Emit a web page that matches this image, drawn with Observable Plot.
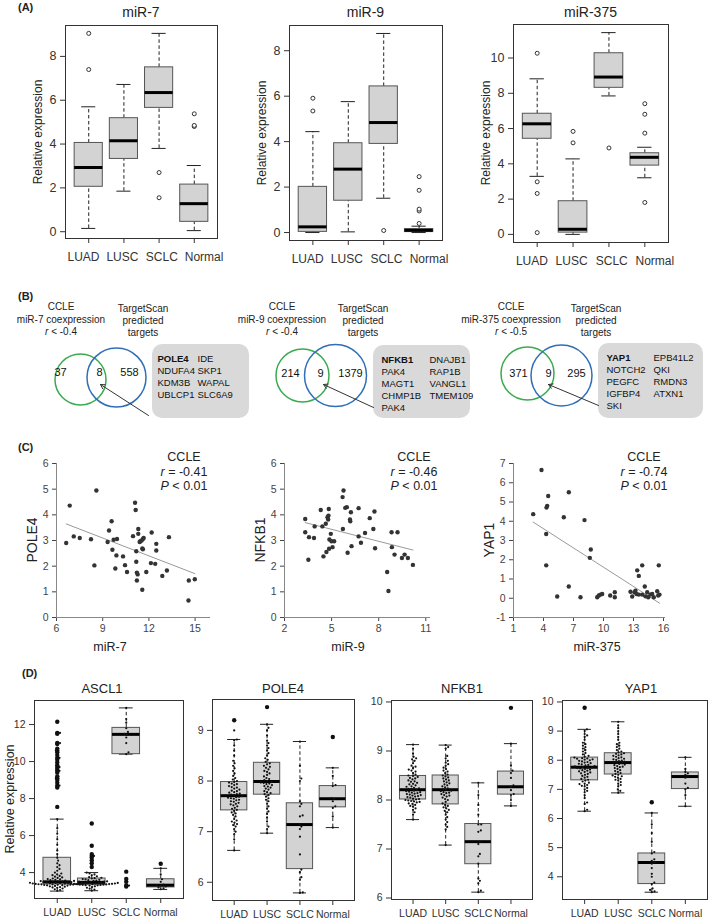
<!DOCTYPE html>
<html><head><meta charset="utf-8">
<script src="https://cdn.jsdelivr.net/npm/d3@7"></script>
<script src="https://cdn.jsdelivr.net/npm/@observablehq/plot@0.6"></script>
<style>
body{margin:0;background:#fff;}
#fig{position:relative;width:709px;height:922px;overflow:hidden;background:#fff;font-family:"Liberation Sans",Arial,sans-serif;color:#222;}
#fig svg{overflow:visible;}
</style></head><body><div id="fig"></div>
<script>
// ---------------- DATA ----------------
const groups = ["LUAD", "LUSC", "SCLC", "Normal"];

// (A) miRNA boxplots: [lower whisker, Q1, median, Q3, upper whisker]
const miRNAs = ["miR-7", "miR-9", "miR-375"];
const mir7Stats = [[0.15,2.05,2.93,4.05,5.7],[1.85,3.32,4.15,5.18,6.72],[3.8,5.65,6.35,7.5,9.05],[0.05,0.45,1.28,2.15,3.02]];
const mir7Outliers = [[7.4,9.05],[],[2.7,1.55],[4.8,4.85,5.38]];
const mir9Stats = [[0,0.03,0.25,2.01,4.44],[0.03,1.4,2.79,3.93,5.76],[1.51,3.9,4.84,6.43,8.76],[0,0.02,0.1,0.15,0.28]];
const mir9Outliers = [[5.35,5.91],[],[0.09],[0.4,0.95,1.03,1.86,2.46]];
const mir375Stats = [[3.29,5.42,6.27,6.84,8.82],[0,0.1,0.29,1.88,4.28],[7.85,8.31,8.92,10.27,11.44],[3.21,3.9,4.37,4.6,4.94]];
const mir375Outliers = [[10.27,2.98,2.32,0.1],[5.19,5.84],[4.9],[5.74,6.81,7.41,1.81]];

// (B) Venn counts and overlapping genes
const vennCutoffs = ["-0.4", "-0.4", "-0.5"];
const vennCcleOnly = [37, 214, 371];
const vennOverlap = [8, 9, 9];
const vennTargetOnly = [558, 1379, 295];
const overlapGenes = [
  ["POLE4","NDUFA4","KDM3B","UBLCP1","IDE","SKP1","WAPAL","SLC6A9"],
  ["NFKB1","PAK4","MAGT1","CHMP1B","PAK4","DNAJB1","RAP1B","VANGL1","TMEM109"],
  ["YAP1","NOTCH2","PEGFC","IGFBP4","SKI","EPB41L2","QKI","RMDN3","ATXN1"]
];

// (C) CCLE correlations
const targetGenes = ["POLE4", "NFKB1", "YAP1"];
const corrR = ["-0.41", "-0.46", "-0.74"];
const mir7X = [6.63,6.86,7.12,7.51,8.24,8.46,8.59,9.32,9.41,9.58,9.63,9.71,9.82,9.89,9.93,10.32,10.45,10.58,10.97,11.10,11.14,11.18,11.18,11.22,11.22,11.27,11.31,11.31,11.40,11.44,11.53,11.57,11.61,11.61,11.66,11.57,11.83,12.13,12.18,12.41,12.48,12.48,12.87,13.17,13.30,14.59,14.98,14.57];
const pole4Y = [2.90,4.36,3.16,3.10,3.05,2.03,4.95,2.94,3.39,3.75,2.64,3.03,1.91,2.42,3.06,2.38,2.04,1.77,3.17,4.47,4.19,2.58,2.17,1.44,1.75,1.68,3.26,3.45,2.94,2.97,3.00,2.69,3.06,2.66,3.10,1.08,1.77,2.12,3.31,2.09,2.87,2.61,1.62,1.83,3.13,1.44,1.49,0.66];
const mir9X = [3.32,3.32,3.56,3.52,3.88,3.92,4.31,4.41,4.48,4.63,4.67,4.74,4.78,4.80,4.82,4.84,4.86,4.95,4.99,5.06,5.16,5.70,5.76,5.72,5.87,5.97,6.02,6.17,6.19,6.23,6.27,6.72,6.72,6.87,7.13,7.43,7.66,7.73,7.77,8.54,8.62,8.82,8.84,9.01,9.20,9.48,9.65,9.86,10.18];
const nfkb1Y = [3.84,3.32,3.13,2.25,3.10,3.55,4.19,3.55,2.38,3.65,2.55,3.91,3.82,3.97,4.23,2.68,3.04,3.26,2.97,2.74,2.97,4.69,4.95,3.45,4.27,4.30,2.52,3.82,3.75,4.10,2.78,4.26,3.16,2.91,3.29,3.87,3.45,4.13,2.70,1.77,1.03,3.32,2.74,2.45,3.32,2.32,2.45,2.32,2.05];
const mir375X = [2.97,3.80,4.27,4.27,4.30,4.37,4.47,5.37,6.03,6.53,6.53,7.70,8.10,8.73,8.63,9.37,9.53,9.70,9.87,10.67,11.13,11.13,12.70,12.87,13.10,13.37,13.53,13.20,13.30,13.53,13.87,13.87,14.13,14.20,14.37,14.47,14.70,14.87,15.03,15.37,15.53,15.47,15.60];
const yap1Y = [4.37,6.66,3.34,1.71,4.71,4.80,5.31,0.09,4.21,5.51,0.61,0.05,4.06,2.53,2.10,0.05,0.14,0.19,0.22,0.14,0.31,0.05,0.34,0.09,0.31,1.45,1.16,0.39,0.22,0.19,1.71,0.19,0.61,0.10,0.31,0.05,0.19,0.22,0.05,0.36,1.71,0.14,0.19];

// (D) target gene expression: box stats, outliers, individual samples
const dGenes = ["ASCL1", "POLE4", "NFKB1", "YAP1"];
const ascl1Stats = [[3.0,3.36,3.5,4.8,6.89],[3.02,3.32,3.47,3.68,4.0],[10.4,10.4,11.47,11.82,12.9],[3.09,3.2,3.32,3.64,4.23]];
const ascl1Outliers = [[7.55,8.6,8.7,8.85,9.0,9.1,9.2,9.4,9.5,9.6,9.7,9.8,9.95,10.1,10.2,10.35,10.5,10.6,10.7,10.95,11.0,11.5,11.55,12.15],[4.3,4.5,4.65,4.8,4.9,5.0,5.45,6.65],[3.25,3.3,3.5,3.65,4.05],[4.48]];
const ascl1Samples = [
  [3.02,3.06,3.1,3.14,3.18,3.2,3.22,3.24,3.26,3.28,3.3,3.31,3.32,3.33,3.34,3.35,3.36,3.37,3.38,3.39,3.4,3.41,3.42,3.43,3.44,3.45,3.46,3.47,3.48,3.49,3.5,3.51,3.52,3.53,3.54,3.55,3.57,3.59,3.61,3.63,3.65,
   3.345,3.365,3.385,3.405,3.425,
   3.68,3.71,3.74,3.78,3.82,3.86,3.9,3.95,4.0,4.1,4.2,4.3,4.4,4.5,4.65,4.8,5.0,5.2,5.5,5.8,6.1,6.4,6.89,
   7.55,8.6,8.7,8.85,9.0,9.1,9.2,9.4,9.5,9.6,9.7,9.8,9.95,10.1,10.2,10.35,10.5,10.6,10.7,10.95,11.0,11.5,11.55,12.15],
  [3.02,3.08,3.13,3.18,3.22,3.26,3.3,3.31,3.32,3.33,3.34,3.35,3.36,3.37,3.38,3.39,3.4,3.41,3.42,3.43,3.44,3.45,3.46,3.47,3.48,3.49,3.5,3.51,3.52,3.53,3.55,3.57,3.59,3.61,3.63,3.65,
   3.355,3.375,3.395,3.415,
   3.68,3.7,3.72,3.75,3.8,3.85,3.9,3.95,4.0,4.3,4.5,4.65,4.8,4.9,5.0,5.45,6.65],
  [3.25,3.3,3.5,3.65,4.05,10.4,10.5,11.0,11.3,11.45,11.5,11.6,11.8,12.1,12.3,12.9],
  [3.1,3.15,3.2,3.25,3.3,3.32,3.35,3.5,3.64,3.9,4.23,4.48]
];
const pole4Stats = [[6.63,7.42,7.71,7.98,8.82],[6.97,7.73,7.99,8.36,9.12],[5.79,6.26,7.14,7.56,8.78],[7.08,7.48,7.65,7.9,8.26]];
const pole4Outliers = [[9.2],[9.46],[],[8.87]];
const pole4Samples = [
  [6.63,6.85,6.95,7.0,7.05,7.1,7.13,7.15,7.18,7.2,7.22,7.25,7.3,7.33,7.36,7.38,7.41,7.43,7.45,7.47,7.5,7.52,7.54,7.55,7.57,7.59,7.6,7.62,7.63,7.65,7.66,7.67,7.68,7.69,7.7,7.72,7.73,7.74,7.75,7.77,7.78,7.8,7.81,7.83,7.85,7.87,7.88,7.9,7.92,7.94,7.95,7.97,7.98,8.0,8.03,8.06,8.1,8.15,8.2,8.25,8.3,8.35,8.4,8.5,8.6,8.7,8.8,8.82,9.0,9.2],
  [6.97,7.05,7.1,7.2,7.28,7.35,7.4,7.45,7.5,7.55,7.6,7.63,7.66,7.69,7.72,7.74,7.76,7.78,7.8,7.83,7.85,7.87,7.89,7.9,7.92,7.94,7.95,7.96,7.97,7.98,8.0,8.02,8.04,8.06,8.09,8.12,8.15,8.18,8.2,8.23,8.26,8.28,8.3,8.33,8.35,8.38,8.42,8.45,8.5,8.55,8.6,8.65,8.7,8.75,8.8,8.9,9.0,9.05,9.12,9.46],
  [5.79,5.8,6.05,6.1,6.2,6.25,6.55,6.9,7.05,7.1,7.15,7.3,7.32,7.5,7.55,7.6,8.0,8.05,8.3,8.78],
  [7.08,7.3,7.47,7.5,7.6,7.65,7.66,7.9,7.92,8.1,8.26,8.87]
];
const nfkb1Stats = [[7.6,8.01,8.21,8.49,9.13],[7.08,7.91,8.21,8.5,9.12],[6.12,6.69,7.15,7.51,8.35],[7.88,8.11,8.27,8.58,9.15]];
const nfkb1Outliers = [[],[],[],[9.88]];
const nfkb1Samples = [
  [7.6,7.7,7.75,7.8,7.83,7.86,7.88,7.9,7.92,7.93,7.95,7.96,7.97,7.98,7.99,8.0,8.01,8.02,8.03,8.05,8.06,8.07,8.08,8.09,8.1,8.11,8.12,8.13,8.14,8.15,8.16,8.17,8.18,8.19,8.2,8.22,8.23,8.24,8.25,8.27,8.28,8.3,8.32,8.33,8.35,8.37,8.38,8.4,8.42,8.44,8.45,8.47,8.49,8.5,8.52,8.55,8.58,8.6,8.62,8.65,8.68,8.7,8.75,8.8,8.83,8.85,8.88,8.95,9.05,9.13],
  [7.08,7.4,7.45,7.5,7.55,7.6,7.65,7.7,7.75,7.78,7.8,7.83,7.85,7.88,7.9,7.93,7.96,8.0,8.02,8.05,8.07,8.09,8.1,8.12,8.14,8.15,8.16,8.18,8.19,8.2,8.22,8.24,8.26,8.28,8.3,8.32,8.34,8.36,8.38,8.4,8.42,8.44,8.46,8.48,8.5,8.52,8.55,8.58,8.6,8.63,8.66,8.7,8.73,8.76,8.8,8.85,8.9,9.05,9.08,9.12],
  [6.12,6.15,6.3,6.35,6.4,6.7,6.85,6.9,7.1,7.15,7.35,7.38,7.5,7.5,7.7,7.9,8.1,8.35],
  [7.88,8.0,8.1,8.12,8.2,8.27,8.3,8.45,8.55,8.6,8.7,9.15,9.88]
];
const yap1Stats = [[6.25,7.31,7.76,8.09,9.06],[6.88,7.51,7.92,8.24,9.32],[3.47,3.75,4.49,4.8,6.19],[6.42,7.01,7.44,7.58,8.1]];
const yap1Outliers = [[9.8],[],[6.56],[]];
const yap1Samples = [
  [6.25,6.3,6.5,6.55,6.7,6.8,6.9,6.95,7.0,7.05,7.1,7.12,7.15,7.18,7.2,7.23,7.27,7.3,7.33,7.36,7.4,7.43,7.46,7.5,7.53,7.55,7.58,7.6,7.62,7.64,7.66,7.68,7.7,7.72,7.73,7.74,7.75,7.77,7.79,7.8,7.82,7.84,7.86,7.88,7.9,7.92,7.94,7.96,7.98,8.0,8.02,8.03,8.05,8.06,8.07,8.09,8.12,8.15,8.2,8.25,8.3,8.35,8.4,8.45,8.5,8.55,8.6,8.7,8.8,8.85,8.9,9.0,9.06,9.8],
  [6.88,6.95,7.0,7.1,7.15,7.2,7.25,7.3,7.33,7.36,7.4,7.43,7.45,7.48,7.5,7.53,7.56,7.6,7.63,7.66,7.7,7.73,7.76,7.78,7.8,7.83,7.85,7.87,7.89,7.91,7.93,7.95,7.97,7.99,8.01,8.03,8.05,8.07,8.1,8.12,8.15,8.17,8.2,8.22,8.24,8.27,8.3,8.35,8.4,8.45,8.5,8.55,8.6,8.7,8.8,8.9,9.0,9.1,9.2,9.32],
  [3.47,3.5,3.55,3.6,3.75,3.8,4.0,4.1,4.3,4.45,4.5,4.55,4.6,4.8,4.85,5.2,5.5,5.8,6.19,6.56],
  [6.42,6.8,7.0,7.05,7.2,7.4,7.45,7.5,7.55,7.6,7.7,8.1]
];

// ---------------- HELPERS ----------------
const FONT = '"Liberation Sans", Arial, sans-serif';
const fig = document.getElementById("fig");
const intFmt = d => String(d);
function place(node, left, top) {
  node.style.position = "absolute";
  node.style.left = left + "px";
  node.style.top = top + "px";
  fig.appendChild(node);
}
function txt(html, x, y, o = {}) {
  const {size = 12, anchor = "middle", weight = "normal", rotate = 0, color = "#222"} = o;
  const d = document.createElement("div");
  d.innerHTML = html;
  const tx = anchor === "middle" ? "-50%" : anchor === "end" ? "-100%" : "0";
  d.style.cssText = `position:absolute;left:${x}px;top:${y}px;font-size:${size}px;font-weight:${weight};color:${color};line-height:1;white-space:nowrap;transform:translate(${tx},-50%)${rotate ? ` rotate(${rotate}deg)` : ""};`;
  fig.appendChild(d);
}

function boxPanel({stats, outliers, samples, yDomain, yTicks, frame, tickFont, xTickPad, filledOutliers, xLabels}) {
  const [fl, ft, fr, fb] = frame;
  const mL = 36, mR = 3, mT = 3, mB = 26;
  const width = fr - fl + mL + mR, height = fb - ft + mT + mB;
  const xDomain = [0.34, 4.66];
  const rows = stats.map((s, k) => ({i: k + 1, lo: s[0], q1: s[1], med: s[2], q3: s[3], hi: s[4]}));
  const outs = outliers.flatMap((arr, k) => arr.map(v => ({i: k + 1, v})));
  const marks = [
    Plot.ruleX(rows, {x: "i", y1: "q3", y2: "hi", stroke: "#222", strokeDasharray: "3.5,2.5"}),
    Plot.ruleX(rows, {x: "i", y1: "lo", y2: "q1", stroke: "#222", strokeDasharray: "3.5,2.5"}),
    Plot.ruleY(rows, {y: "hi", x1: d => d.i - 0.2, x2: d => d.i + 0.2, stroke: "#222"}),
    Plot.ruleY(rows, {y: "lo", x1: d => d.i - 0.2, x2: d => d.i + 0.2, stroke: "#222"}),
    Plot.rect(rows, {x1: d => d.i - 0.4, x2: d => d.i + 0.4, y1: "q1", y2: "q3", fill: "#d3d3d3", stroke: "#555"}),
    Plot.ruleY(rows, {y: "med", x1: d => d.i - 0.4, x2: d => d.i + 0.4, stroke: "#000", strokeWidth: 3})
  ];
  if (filledOutliers) marks.push(Plot.dot(outs, {x: "i", y: "v", r: 2.2, fill: "#111"}));
  else marks.push(Plot.dot(outs, {x: "i", y: "v", r: 2, stroke: "#333", fill: "white", strokeWidth: 1}));
  if (samples) {
    const yPix = d3.scaleLinear(yDomain, [height - mB, mT]);
    const pxPerUnit = (fr - fl) / (xDomain[1] - xDomain[0]);
    const s = 2.9;
    const swarm = [];
    samples.forEach((arr, k) => {
      const pts = arr.map(v => ({v, py: yPix(v)})).sort((a, b) => a.v - b.v);
      const placed = [];
      for (const p of pts) {
        const cands = [0];
        for (const q of placed) {
          const dy = Math.abs(q.py - p.py);
          if (dy < s) { const dx = Math.sqrt(s * s - dy * dy); cands.push(q.px + dx, q.px - dx); }
        }
        cands.sort((a, b) => Math.abs(a) - Math.abs(b));
        const c = cands.find(c => placed.every(q => (q.px - c) ** 2 + (q.py - p.py) ** 2 >= s * s - 1e-6));
        p.px = c === undefined ? 0 : c;
        placed.push(p);
        swarm.push({i: k + 1 + p.px / pxPerUnit, v: p.v});
      }
    });
    marks.push(Plot.dot(swarm, {x: "i", y: "v", r: 1.1, fill: "#111"}));
  }
  marks.push(Plot.frame({stroke: "#333"}));
  const svg = Plot.plot({
    width, height, marginLeft: mL, marginRight: mR, marginTop: mT, marginBottom: mB,
    style: {fontFamily: FONT, fontSize: tickFont + "px", color: "#333", background: "none"},
    x: {domain: xDomain, ticks: [1, 2, 3, 4], tickFormat: xLabels ? () => "" : d => groups[d - 1], tickSize: 5, tickPadding: xTickPad, label: null},
    y: {domain: yDomain, ticks: yTicks, tickFormat: intFmt, tickSize: 5, tickPadding: 4, label: null},
    marks
  });
  place(svg, fl - mL, ft - mT);
}

function scatterPanel({xs, ys, xDomain, xTicks, yDomain, yTicks, frame}) {
  const [fl, ft, fr, fb] = frame;
  const mL = 30, mR = 4, mT = 6, mB = 22;
  const width = fr - fl + mL + mR, height = fb - ft + mT + mB;
  const pts = xs.map((x, k) => ({x, y: ys[k]}));
  const svg = Plot.plot({
    width, height, marginLeft: mL, marginRight: mR, marginTop: mT, marginBottom: mB,
    style: {fontFamily: FONT, fontSize: "10.5px", color: "#444", background: "none"},
    x: {domain: xDomain, ticks: xTicks, tickFormat: intFmt, tickSize: 4, tickPadding: 3, label: null},
    y: {domain: yDomain, ticks: yTicks, tickFormat: intFmt, tickSize: 4, tickPadding: 4, label: null},
    marks: [
      Plot.ruleX([xDomain[0]], {stroke: "#888"}),
      Plot.ruleY([yDomain[0]], {stroke: "#888"}),
      Plot.linearRegressionY(pts, {x: "x", y: "y", stroke: "#9a9a9a", strokeWidth: 1, ci: 0}),
      Plot.dot(pts, {x: "x", y: "y", r: 2.2, fill: "#333"})
    ]
  });
  place(svg, fl - mL, ft - mT);
}

// ---------------- PANEL A ----------------
txt("(A)", 18, 7, {size: 11, weight: "bold", anchor: "start"});
const aFrames = [[65, 25, 217, 238], [289, 25, 442, 240], [513, 24, 668, 242]];
const aStats = [mir7Stats, mir9Stats, mir375Stats];
const aOut = [mir7Outliers, mir9Outliers, mir375Outliers];
const aDom = [[-0.31, 9.41], [-0.35, 9.11], [-0.46, 11.9]];
const aTicks = [[0, 2, 4, 6, 8], [0, 2, 4, 6, 8], [0, 2, 4, 6, 8, 10]];
const aLabelFrac = [0.122, 0.378, 0.637, 0.915];
aFrames.forEach((f, k) => {
  boxPanel({stats: aStats[k], outliers: aOut[k], yDomain: aDom[k], yTicks: aTicks[k], frame: f, tickFont: 12.5, xTickPad: 8, filledOutliers: false, xLabels: true});
  txt(miRNAs[k], (f[0] + f[2]) / 2, 12, {size: 14});
  txt("Relative expression", f[0] - 27, (f[1] + f[3]) / 2, {size: 12, rotate: -90});
  groups.forEach((g, j) => txt(g, f[0] + aLabelFrac[j] * (f[2] - f[0]), f[3] + 19, {size: 12, color: "#333"}));
});

// ---------------- PANEL B ----------------
txt("(B)", 18, 296, {size: 11, weight: "bold", anchor: "start"});
const bHead = [[61, 143], [282, 363], [511, 596]];
bHead.forEach((h, k) => {
  txt("CCLE", h[0], 307, {size: 10});
  txt(miRNAs[k] + " coexpression", h[0], 319.5, {size: 10});
  txt("<i>r</i> &lt; " + vennCutoffs[k], h[0], 332, {size: 10});
  txt("TargetScan", h[1], 309, {size: 10});
  txt("predicted", h[1], 321, {size: 10});
  txt("targets", h[1], 333, {size: 10});
});
{
  // layout of each Venn panel (pixel geometry)
  const L = [
    {g: [80, 379, 25.5], b: [116, 377, 29.5], n: [60, 99, 129], ny: 372, box: [152, 344, 249, 418], c1: 157, c2: 197, ar: [148, 415, 100, 384]},
    {g: [302, 375, 26.5], b: [335, 375, 31], n: [290, 320, 350], ny: 373, box: [373, 345, 470, 418], c1: 381, c2: 429, ar: [373, 407, 323, 384]},
    {g: [527, 373, 26.5], b: [561, 375, 30.5], n: [518, 548, 576], ny: 373, box: [598, 343, 703, 418], c1: 606, c2: 653, ar: [598, 405, 548, 384]}
  ];
  const circles = [], counts = [], boxes = [], genes = [], arrows = [];
  L.forEach((l, k) => {
    circles.push({x: l.g[0], y: l.g[1], r: l.g[2], c: "#3aaa4f"}, {x: l.b[0], y: l.b[1], r: l.b[2], c: "#2f6fb7"});
    counts.push({x: l.n[0], y: l.ny, t: vennCcleOnly[k]}, {x: l.n[1], y: l.ny, t: vennOverlap[k]}, {x: l.n[2], y: l.ny, t: vennTargetOnly[k]});
    boxes.push({x1: l.box[0], y1: l.box[1], x2: l.box[2], y2: l.box[3]});
    const list = overlapGenes[k];
    const half = Math.ceil(list.length / 2);
    list.forEach((g, j) => {
      const col = j < half ? 0 : 1, row = j < half ? j : j - half;
      genes.push({x: col ? l.c2 : l.c1, y: l.box[1] + 14 + row * 12.2, t: g, bold: j === 0});
    });
    arrows.push({x1: l.ar[0], y1: l.ar[1], x2: l.ar[2], y2: l.ar[3]});
  });
  const svg = Plot.plot({
    width: 709, height: 84, margin: 0,
    style: {fontFamily: FONT, background: "none", color: "#111"},
    x: {domain: [0, 709], range: [0, 709], axis: null},
    y: {domain: [339, 423], range: [0, 84], axis: null},
    marks: [
      Plot.rect(boxes, {x1: "x1", x2: "x2", y1: "y1", y2: "y2", fill: "#d9d9d9", rx: 10}),
      ...circles.map(c => Plot.dot([c], {x: "x", y: "y", r: c.r, stroke: c.c, strokeWidth: 1.5, fill: "none"})),
      Plot.text(counts, {x: "x", y: "y", text: d => String(d.t), fontSize: 11}),
      Plot.text(genes.filter(d => !d.bold), {x: "x", y: "y", text: "t", textAnchor: "start", fontSize: 9.5}),
      Plot.text(genes.filter(d => d.bold), {x: "x", y: "y", text: "t", textAnchor: "start", fontSize: 9.5, fontWeight: "bold"}),
      Plot.arrow(arrows, {x1: "x1", y1: "y1", x2: "x2", y2: "y2", stroke: "#333", strokeWidth: 1, headLength: 7})
    ]
  });
  place(svg, 0, 339);
}

// ---------------- PANEL C ----------------
txt("(C)", 18, 447, {size: 11, weight: "bold", anchor: "start"});
const cFrames = [[56, 463, 210, 617], [284, 463, 430, 617], [513, 463, 665, 617]];
const cX = [mir7X, mir9X, mir375X], cY = [pole4Y, nfkb1Y, yap1Y];
const cXDom = [[6, 16], [2, 11.3], [1, 16.2]];
const cXTicks = [[6, 9, 12, 15], [2, 5, 8, 11], [1, 4, 7, 10, 13, 16]];
const cYDom = [[0, 6], [0, 6], [-1, 7]];
const cYTicks = [[0, 1, 2, 3, 4, 5, 6], [0, 1, 2, 3, 4, 5, 6], [-1, 0, 1, 2, 3, 4, 5, 6, 7]];
const cLabX = [110, 348, 597];
const cTextX = [184, 414, 644];
cFrames.forEach((f, k) => {
  scatterPanel({xs: cX[k], ys: cY[k], xDomain: cXDom[k], xTicks: cXTicks[k], yDomain: cYDom[k], yTicks: cYTicks[k], frame: f});
  txt(targetGenes[k], f[0] - 24, 540, {size: 14, rotate: -90});
  txt(miRNAs[k], cLabX[k], 647, {size: 12.5});
  txt("CCLE", cTextX[k], 457, {size: 12.5});
  txt("<i>r</i> = " + corrR[k], cTextX[k], 472, {size: 12.5});
  txt("<i>P</i> &lt; 0.01", cTextX[k], 486, {size: 12.5});
});

// ---------------- PANEL D ----------------
txt("(D)", 22, 673, {size: 11, weight: "bold", anchor: "start"});
const dFrames = [[34, 700, 183, 898], [212, 699, 354, 900], [391, 700, 532, 899], [562, 700, 707, 899]];
const dStats = [ascl1Stats, pole4Stats, nfkb1Stats, yap1Stats];
const dOut = [ascl1Outliers, pole4Outliers, nfkb1Outliers, yap1Outliers];
const dSamples = [ascl1Samples, pole4Samples, nfkb1Samples, yap1Samples];
const dDom = [[2.6, 13.3], [5.64, 9.61], [5.97, 10.03], [3.22, 10.05]];
const dTicks = [[4, 6, 8, 10, 12], [6, 7, 8, 9], [6, 7, 8, 9, 10], [4, 5, 6, 7, 8, 9, 10]];
const dTitleX = [102, 283, 462, 641];
dFrames.forEach((f, k) => {
  boxPanel({stats: dStats[k], outliers: dOut[k], samples: dSamples[k], yDomain: dDom[k], yTicks: dTicks[k], frame: f, tickFont: 10.5, xTickPad: 5, filledOutliers: true});
  txt(dGenes[k], dTitleX[k], 688, {size: 13});
});
txt("Relative expression", 10, 799, {size: 12.5, rotate: -90});
</script></body></html>
